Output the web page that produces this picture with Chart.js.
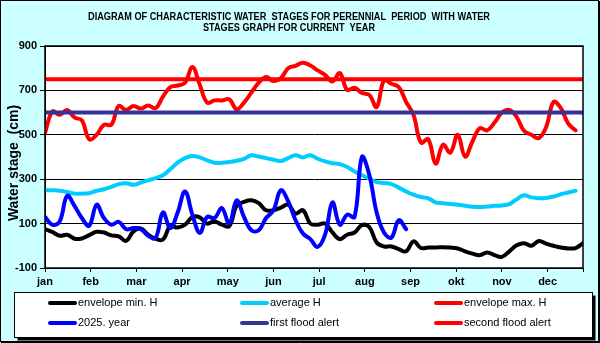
<!DOCTYPE html>
<html>
<head>
<meta charset="utf-8">
<script src="https://cdn.jsdelivr.net/npm/chart.js@4"></script>
<style>
  body { margin: 0; background: #ccffff; }
  canvas { display: block; }
</style>
</head>
<body>
<canvas id="stagesChart" width="600" height="343"></canvas>
<script>
// day of year for every sample (every 5 days)
const days = [];
for (let d = 0; d <= 365; d += 5) days.push(d);

const months = ['jan', 'feb', 'mar', 'apr', 'may', 'jun', 'jul', 'aug', 'sep', 'okt', 'nov', 'dec'];

// water stages in cm
const minH = [75, 62, 45, 50, 32, 33, 48, 63, 60, 47, 43, 22, 65, 78, 50, 32, 28, 88, 82,
    95, 130, 128, 100, 110, 95, 88, 180, 198, 205, 192, 160, 160, 172, 185, 145, 160, 100,
    95, 100, 60, 30, 50, 60, 93, 85, 15, -3, -3, -15, -25, 20, -10, -8, -8, -6, -8,
    -12, -25, -35, -42, -30, -42, -50, -25, 2, 12, 0, 22, 10, 0, -8, -12, -10, 12];

const averageH = [250, 250, 248, 242, 235, 235, 237, 248, 255, 265, 278, 282, 275, 285, 295, 305, 318, 345, 375,
    395, 405, 398, 385, 374, 374, 377, 383, 392, 408, 402, 395, 388, 382, 395, 408, 398, 408,
    392, 380, 372, 368, 355, 335, 318, 302, 287, 283, 278, 262, 245, 230, 220, 214, 196, 192,
    188, 185, 180, 176, 175, 177, 180, 182, 188, 210, 228, 218, 214, 215, 222, 232, 240, 248];

const maxH = [508, 605, 590, 612, 578, 565, 480, 500, 545, 545, 630, 612, 630, 618, 632, 620, 672, 715, 722,
    735, 805, 725, 645, 655, 655, 660, 615, 645, 690, 735, 760, 742, 755, 800, 811, 825, 812,
    790, 770, 740, 778, 702, 712, 688, 680, 625, 745, 730, 715, 648, 590, 465, 480, 370, 455,
    420, 500, 402, 470, 530, 520, 555, 600, 612, 580, 518, 500, 485, 535, 648, 620, 550, 520];

const year2025 = [130, 95, 110, 225, 180, 125, 90, 185, 125, 95, 108, 75, 80, 75, 45, 35, 150, 80, 150,
    245, 140, 58, 130, 125, 170, 100, 205, 130, 70, 70, 125, 160, 250, 200, 115, 55, 30,
    -5, 50, 195, 95, 140, 130, 400, 320, 150, 60, 37, 115, 75];

const firstAlert = 600;
const secondAlert = 750;

const toPoints = values => values.map((v, i) => ({ x: days[i], y: v }));
const flat = level => [{ x: 0, y: level }, { x: 365, y: level }];

const series = [
    { label: 'envelope min. H', data: toPoints(minH), color: '#000000', order: 6 },
    { label: 'average H', data: toPoints(averageH), color: '#00ccff', order: 5 },
    { label: 'envelope max. H', data: toPoints(maxH), color: '#ff0000', order: 4 },
    { label: '2025. year', data: toPoints(year2025), color: '#0000ff', order: 3 },
    { label: 'first flood alert', data: flat(firstAlert), color: '#333399', order: 2 },
    { label: 'second flood alert', data: flat(secondAlert), color: '#ff0000', order: 1 }
];

// draws a line of text squeezed to the given width
function fitText(ctx, text, x, y, width) {
    const k = Math.min(1, width / ctx.measureText(text).width);
    ctx.save();
    ctx.translate(x, y);
    ctx.scale(k, 1);
    ctx.fillText(text, 0, 0);
    ctx.restore();
}

// background, plot frame, titles and the boxed legend
const framePlugin = {
    id: 'frame',
    beforeDraw(chart) {
        const { ctx, chartArea: a } = chart;
        ctx.save();
        ctx.fillStyle = '#ccffff';
        ctx.fillRect(0, 0, chart.width, chart.height);
        ctx.fillStyle = '#ffffff';
        ctx.fillRect(a.left, a.top, a.right - a.left, a.bottom - a.top);
        ctx.restore();
    },
    afterDraw(chart) {
        const { ctx, chartArea: a } = chart;
        ctx.save();

        ctx.strokeStyle = '#000';
        ctx.lineWidth = 1.5;
        ctx.strokeRect(a.left, a.top, a.right - a.left, a.bottom - a.top);

        // chart title
        ctx.fillStyle = '#000';
        ctx.font = 'bold 10px Arial, "Liberation Sans", sans-serif';
        ctx.textAlign = 'center';
        ctx.textBaseline = 'middle';
        fitText(ctx, 'DIAGRAM OF CHARACTERISTIC WATER  STAGES FOR PERENNIAL  PERIOD  WITH WATER', 289, 17, 402);
        fitText(ctx, 'STAGES GRAPH FOR CURRENT  YEAR', 289, 28, 172);

        // y axis title
        ctx.save();
        ctx.translate(14, 163);
        ctx.rotate(-Math.PI / 2);
        ctx.font = 'bold 14px Arial, "Liberation Sans", sans-serif';
        ctx.fillText('Water stage  (cm)', 0, 0);
        ctx.restore();

        // legend box with shadow
        const bx = 14.5, by = 292.5, bw = 578, bh = 45;
        ctx.fillStyle = '#000';
        ctx.fillRect(bx + 3, by + 3, bw, bh);
        ctx.fillStyle = '#fff';
        ctx.fillRect(bx, by, bw, bh);
        ctx.lineWidth = 1;
        ctx.strokeRect(bx, by, bw, bh);

        const cols = [48, 240, 434];
        const rows = [303, 323];
        ctx.font = '11px Arial, "Liberation Sans", sans-serif';
        ctx.textAlign = 'left';
        ctx.lineCap = 'round';
        series.forEach((s, i) => {
            const x = cols[i % 3];
            const y = rows[Math.floor(i / 3)];
            ctx.strokeStyle = s.color;
            ctx.lineWidth = 4;
            ctx.beginPath();
            ctx.moveTo(x + 2, y);
            ctx.lineTo(x + 27, y);
            ctx.stroke();
            ctx.fillStyle = '#000';
            ctx.fillText(s.label, x + 30, y);
        });

        // outer border
        ctx.lineCap = 'butt';
        ctx.strokeStyle = '#000';
        ctx.lineWidth = 1;
        ctx.strokeRect(0.5, 0.5, chart.width - 2, chart.height - 2);
        ctx.beginPath();
        ctx.moveTo(1, chart.height - 0.5);
        ctx.lineTo(chart.width, chart.height - 0.5);
        ctx.moveTo(chart.width - 0.5, 1);
        ctx.lineTo(chart.width - 0.5, chart.height);
        ctx.stroke();
        ctx.restore();
    }
};

const ctx = document.getElementById('stagesChart').getContext('2d');
const stagesChart = new Chart(ctx, {
    type: 'line',
    data: {
        datasets: series.map(s => ({
            label: s.label,
            data: s.data,
            borderColor: s.color,
            backgroundColor: s.color,
            borderWidth: 4,
            borderCapStyle: 'round',
            borderJoinStyle: 'round',
            pointRadius: 0,
            tension: 0.4,
            order: s.order
        }))
    },
    options: {
        responsive: false,
        animation: false,
        devicePixelRatio: 1,
        layout: { padding: { top: 46, right: 17, left: 0, bottom: 0 } },
        plugins: {
            legend: { display: false },
            tooltip: { enabled: false }
        },
        scales: {
            x: {
                type: 'linear',
                min: 0,
                max: 365,
                afterFit: scale => { scale.height = 75; },
                grid: { drawOnChartArea: false, color: '#000', tickLength: 4 },
                border: { color: '#000' },
                ticks: {
                    stepSize: 31,
                    autoSkip: false,
                    maxRotation: 0,
                    padding: 3,
                    color: '#000',
                    font: { family: 'Arial, "Liberation Sans", sans-serif', size: 11, weight: 'bold' },
                    callback: v => months[v / 31] || ''
                }
            },
            y: {
                min: -100,
                max: 900,
                afterFit: scale => { scale.width = 45; },
                grid: { color: '#000', tickLength: 5 },
                border: { color: '#000' },
                ticks: {
                    stepSize: 200,
                    padding: 3,
                    color: '#000',
                    font: { family: 'Arial, "Liberation Sans", sans-serif', size: 11, weight: 'bold' }
                }
            }
        }
    },
    plugins: [framePlugin]
});
</script>
</body>
</html>
